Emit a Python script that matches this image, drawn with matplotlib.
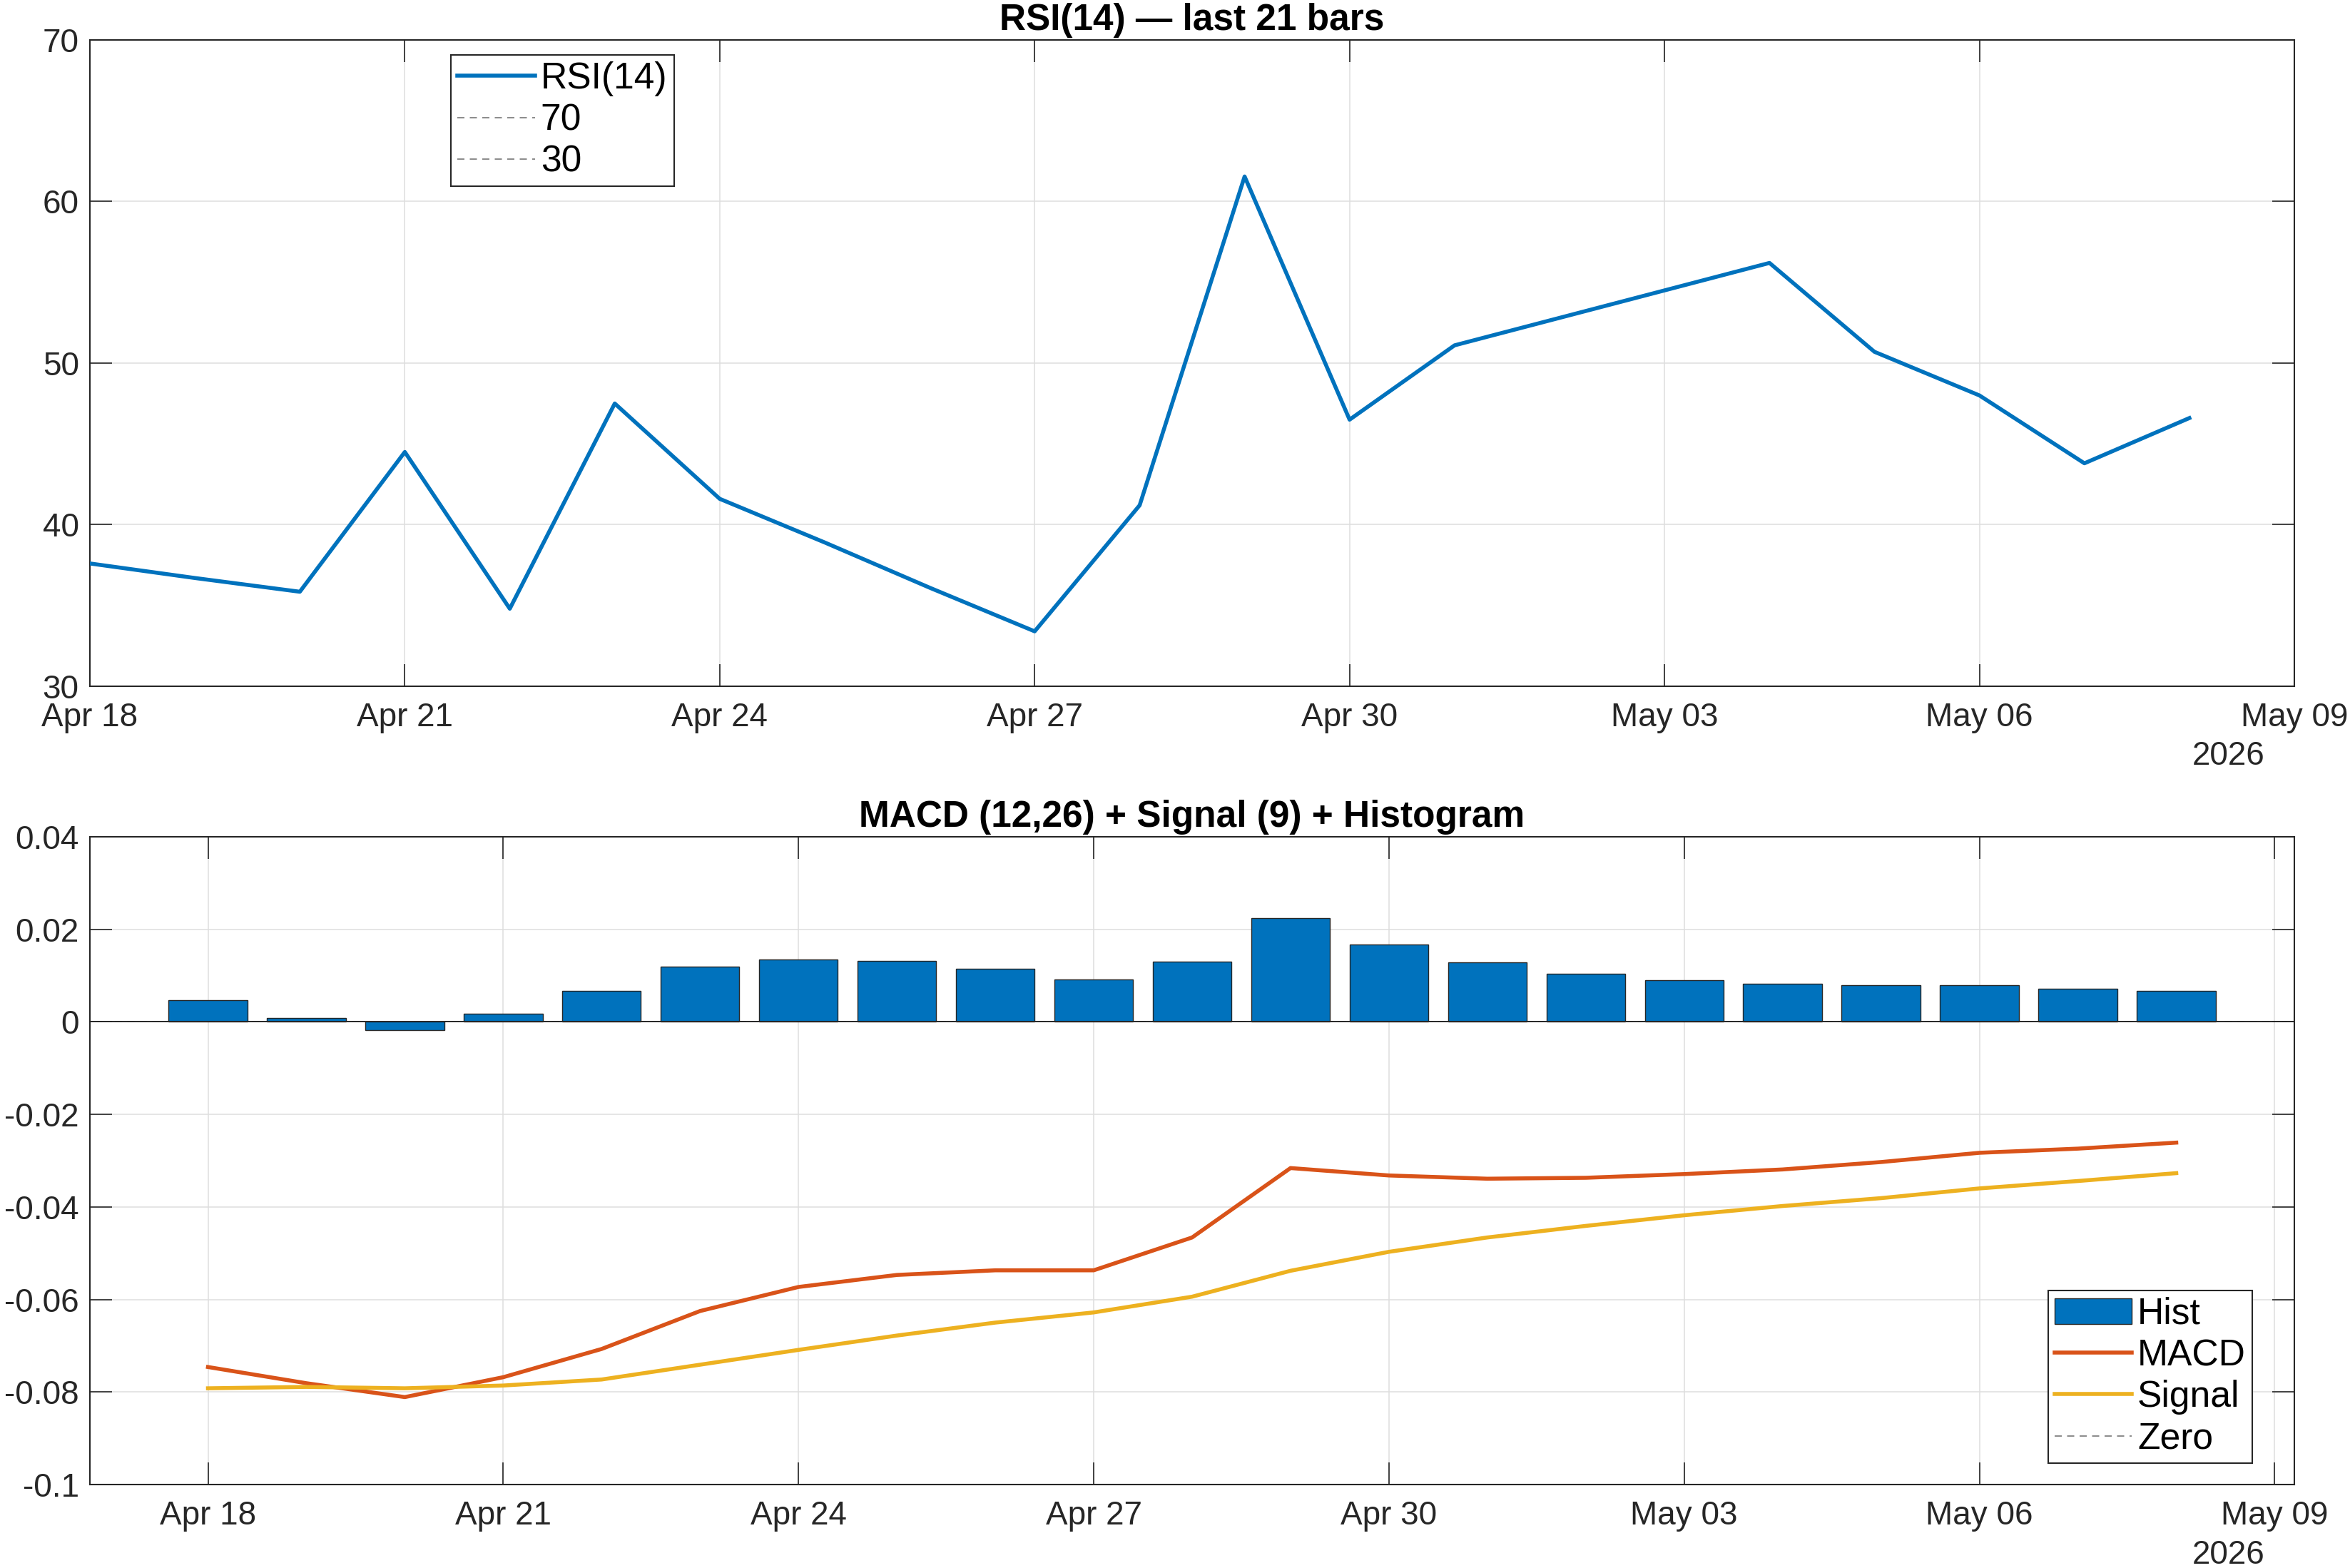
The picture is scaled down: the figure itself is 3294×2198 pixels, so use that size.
import matplotlib
matplotlib.use("Agg")
import matplotlib.pyplot as plt
import matplotlib.dates as mdates
from matplotlib.ticker import FixedLocator, FuncFormatter
import numpy as np
import datetime as dt

# ---------------- data ----------------
start_date = "2026-04-18"
n_days = 21
rsi = [37.6, 36.7, 35.85, 44.5, 34.8, 47.5, 41.6, 38.9, 36.1, 33.4, 41.2,
       61.55, 46.5, 51.1, 52.8, 54.5, 56.2, 50.7, 48.0, 43.8, 46.6]
macd = [-0.0746, -0.0781, -0.0811, -0.0768, -0.0707, -0.0625, -0.0573, -0.0547,
        -0.0537, -0.0537, -0.0466, -0.0316, -0.0332, -0.0339, -0.0337, -0.0329,
        -0.0319, -0.0303, -0.0283, -0.0274, -0.0261]
signal = [-0.0792, -0.0789, -0.0792, -0.0786, -0.0773, -0.0741, -0.0709, -0.0678,
          -0.0650, -0.0628, -0.0594, -0.0538, -0.0497, -0.0466, -0.0441, -0.0418,
          -0.0398, -0.0381, -0.0360, -0.0344, -0.0327]
hist = [0.0047, 0.0008, -0.0018, 0.0017, 0.0067, 0.0120, 0.0135, 0.0131, 0.0115,
        0.0092, 0.0130, 0.0224, 0.0167, 0.0128, 0.0104, 0.0090, 0.0082, 0.0079,
        0.0079, 0.0072, 0.0067]
rsi_levels = [70, 30]
rsi_title = "RSI(14) \u2014 last 21 bars"
macd_title = "MACD (12,26) + Signal (9) + Histogram"
year_label = "2026"

# ---------------- style ----------------
plt.rcParams['font.family'] = ['Liberation Sans', 'DejaVu Sans']
AX_COLOR = '#262626'
GRID_COLOR = '#dedede'
BLUE = '#0072BD'
ORANGE = '#D95319'
YELLOW = '#EDB120'
TICK_FS = 16.5
LEG_FS = 18.6
TITLE_FS = 18.5
LW = 2.0

d0 = dt.datetime.strptime(start_date, "%Y-%m-%d")
dates = [d0 + dt.timedelta(days=i) for i in range(n_days)]
x = mdates.date2num(dates)

fig = plt.figure(figsize=(3294 / 200, 2198 / 200), dpi=200)
W, H = 3294.0, 2198.0
ax1 = fig.add_axes([126 / W, 1 - 962 / H, (3216 - 126) / W, (962 - 56) / H])
ax2 = fig.add_axes([126 / W, 1 - 2081 / H, (3216 - 126) / W, (2081 - 1173) / H])


def style_axes(ax):
    for s in ax.spines.values():
        s.set_color(AX_COLOR)
        s.set_linewidth(0.75)
    ax.tick_params(axis='both', which='major', direction='in', length=11,
                   width=0.6, colors=AX_COLOR, labelsize=TICK_FS,
                   top=True, right=True)
    ax.tick_params(axis='x', pad=8)
    ax.tick_params(axis='y', pad=5.5)
    ax.grid(True, color=GRID_COLOR, linewidth=0.55, zorder=0)
    ax.set_axisbelow(True)
    ax.xaxis.set_major_formatter(mdates.DateFormatter('%b %d'))


def make_legend(ax, handles, **kw):
    leg = ax.legend(handles=handles, fontsize=LEG_FS, frameon=True,
                    fancybox=False, framealpha=1, edgecolor=AX_COLOR,
                    handlelength=2.1, handletextpad=0.15, labelspacing=0.18,
                    borderpad=0.18, borderaxespad=0, **kw)
    leg.get_frame().set_linewidth(0.75)
    return leg


# ---------------- RSI ----------------
h_rsi, = ax1.plot(x, rsi, color=BLUE, lw=LW, label='RSI(14)', zorder=3)
h_lv = []
for lv in rsi_levels:
    h_lv.append(ax1.axhline(lv, color='#777777', lw=0.6, linestyle=(0, (6, 4.5)),
                            label=str(lv), zorder=2))
ax1.set_ylim(30, 70)
ax1.set_yticks([30, 40, 50, 60, 70])
x_left1 = mdates.date2num(d0)
x_right1 = mdates.date2num(d0 + dt.timedelta(days=21))
ax1.set_xlim(x_left1, x_right1)
ticks = [mdates.date2num(d0 + dt.timedelta(days=3 * k)) for k in range(8)]
ax1.xaxis.set_major_locator(FixedLocator(ticks))
style_axes(ax1)
ax1.set_title(rsi_title, fontsize=TITLE_FS, fontweight='bold', color='black', pad=5)
ax1.text(0.970, -0.108, year_label, transform=ax1.transAxes, ha='center',
         va='center', fontsize=TICK_FS, color=AX_COLOR)
make_legend(ax1, [h_rsi] + h_lv, loc='upper left', bbox_to_anchor=(0.1638, 0.9768))

# ---------------- MACD ----------------
h_hist = ax2.bar(x, hist, width=0.8, color=BLUE, edgecolor=AX_COLOR, linewidth=0.5,
                 label='Hist', zorder=2)
h_macd, = ax2.plot(x, macd, color=ORANGE, lw=LW, label='MACD', zorder=3)
h_sig, = ax2.plot(x, signal, color=YELLOW, lw=LW, label='Signal', zorder=3)
h_zero = ax2.axhline(0, color='#777777', lw=0.6, linestyle=(0, (6, 4.5)),
                     label='Zero', zorder=2.4)
ax2.axhline(0, color=AX_COLOR, lw=0.7, zorder=2.5)
ax2.set_ylim(-0.1, 0.04)
ax2.set_yticks([-0.1, -0.08, -0.06, -0.04, -0.02, 0, 0.02, 0.04])
ax2.yaxis.set_major_formatter(FuncFormatter(lambda v, p: '%g' % round(v, 6)))
ax2.set_xlim(x_left1 - 1.2, x_right1 + 0.2)
ax2.xaxis.set_major_locator(FixedLocator(ticks))
style_axes(ax2)
ax2.set_title(macd_title, fontsize=TITLE_FS, fontweight='bold', color='black', pad=5)
ax2.text(0.970, -0.109, year_label, transform=ax2.transAxes, ha='center',
         va='center', fontsize=TICK_FS, color=AX_COLOR)
make_legend(ax2, [h_hist, h_macd, h_sig, h_zero], loc='lower right',
            bbox_to_anchor=(0.981, 0.033))

fig.savefig("out.png", dpi=200, facecolor='white')
